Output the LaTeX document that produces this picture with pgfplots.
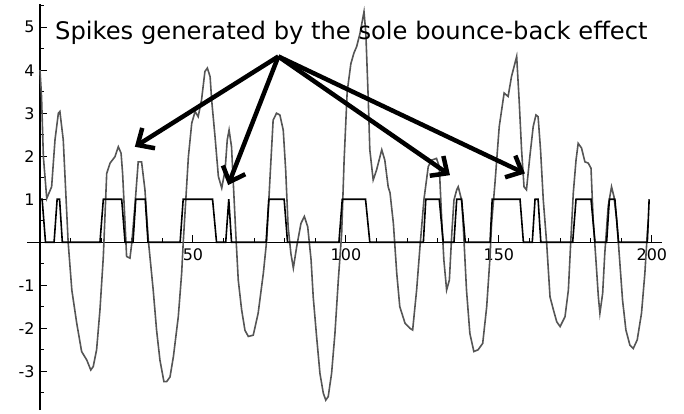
\documentclass[border=0pt]{standalone}
\usepackage{fontspec}
\setmainfont{DejaVu Sans}
\usepackage{pgfplots}
\pgfplotsset{compat=1.18}
\usetikzlibrary{arrows.meta}
\definecolor{curvegrey}{HTML}{555555}

\begin{document}
\begin{tikzpicture}
\useasboundingbox (-27bp,-4bp) rectangle (657bp,410bp);
\begin{axis}[
  at={(0,0)}, anchor=south west,
  scale only axis, width=635bp, height=406bp,
  xmin=-4.25, xmax=203.3, ymin=-3.9, ymax=5.54,
  axis lines=middle,
  axis line style={-, line width=1.2bp, black},
  xtick={50,100,150,200},
  ytick={-3,-2,-1,1,2,3,4,5},
  yticklabels={-3,-2,-1,1,2,3,4,5},
  minor xtick={10,20,...,190},
  minor ytick={-3.5,-2.5,...,5.5},
  tick align=inside,
  major tick length=7bp, minor tick length=4bp,
  tick style={black, line width=1bp},
  ticklabel style={font=\fontsize{16}{19}\selectfont, text=black},
  xticklabel style={yshift=-3bp},
  yticklabel style={xshift=-2bp},
  /pgf/number format/assume math mode=true,
  clip=false,
]
\addplot[curvegrey, line width=1.6bp] coordinates {
(0,4.0) (0.5,3.39) (1.1,1.99) (2.2,1.02) (3.8,1.29) (4.9,2.38) (6.0,3.0) (6.5,3.04) (7.6,2.38) (9.2,0)
(10.4,-1.11) (12.0,-1.88) (13.6,-2.54) (15.3,-2.74) (16.6,-2.97) (17.4,-2.89) (18.5,-2.5) (19.6,-1.57) (20.7,-0.33)
(21.8,1.6) (22.9,1.84) (24.5,1.99) (25.6,2.22) (26.5,2.07) (27.0,1.6) (27.8,0.44) (28.3,-0.33) (29.4,-0.37) (30.0,-0.02)
(31.0,0.83) (32.1,1.87) (33.2,1.87) (34.3,1.22) (35.4,0.05) (37.0,-1.11) (38.1,-2.04) (39.2,-2.74) (40.5,-3.24) (41.4,-3.24)
(42.5,-3.13) (43.6,-2.66) (45.2,-1.73) (46.3,-0.72) (46.8,-0.02) (48.5,1.99) (49.6,2.77) (50.7,3.04) (51.7,2.92) (52.8,3.31)
(53.9,3.97) (54.7,4.05) (55.6,3.85) (56.1,3.31) (57.2,2.46) (58.3,1.53) (59.4,1.26) (60.5,1.68) (61.2,2.38) (61.8,2.61)
(62.6,2.22) (63.4,1.06) (64.1,0.05) (64.8,-0.88) (65.9,-1.57) (67.0,-2.05) (68.1,-2.19) (69.7,-2.16) (71.3,-1.65) (73.0,-0.72)
(74.1,0.05) (75.2,1.53) (76.2,2.84) (77.3,3.0) (78.4,2.96) (79.5,2.61) (80.3,1.68) (81.1,0.36) (82.0,-0.26) (82.8,-0.6)
(83.9,-0.1) (85.3,0.44) (86.4,0.6) (87.5,0.36) (88.6,-0.41) (89.3,-1.27) (90.4,-2.19) (91.5,-3.05) (92.6,-3.51) (93.4,-3.67)
(94.2,-3.59) (95.3,-3.05) (96.4,-2.12) (97.5,-0.88) (98.6,0.21) (99.4,1.91) (100.4,3.5) (101.6,4.15) (102.6,4.4) (103.5,4.55)
(104.6,4.86) (105.9,5.36) (106.5,4.86) (107.3,3.31) (107.8,2.15) (108.9,1.45) (110.0,1.68) (111.7,2.15) (112.7,1.91) (113.8,1.29)
(114.4,1.15) (115.5,0.44) (116.6,-0.72) (117.6,-1.5) (119.3,-1.88) (120.9,-2.0) (121.8,-2.04) (123.1,-1.11) (124.2,-0.1) (125.5,1.0)
(126.9,1.76) (128.0,1.91) (129.6,1.95) (130.5,1.76) (131.3,0.52) (132.0,-0.41) (132.9,-1.11) (133.8,-0.88) (134.6,0.21) (135.3,0.98)
(136.2,1.22) (136.7,1.29) (137.8,0.98) (138.3,0.44) (139.4,-1.11) (140.5,-2.12) (141.8,-2.54) (143.2,-2.5) (144.7,-2.35) (146.0,-1.5)
(147.1,-0.33) (147.6,0.44) (148.7,1.37) (150.1,2.69) (151.7,3.47) (153.0,3.39) (154.1,3.85) (155.8,4.32) (156.6,3.31) (157.4,2.15)
(158.2,1.29) (159.0,1.22) (160.1,1.99) (161.2,2.69) (162.1,2.96) (162.8,2.92) (163.6,2.15) (164.5,0.98) (165.6,-0.02) (166.7,-1.27)
(167.8,-1.57) (168.9,-1.85) (170.0,-1.96) (171.6,-1.73) (172.7,-1.11) (173.5,0.05) (174.3,1.14) (175.2,1.91) (175.9,2.3) (177.0,2.19)
(178.1,1.87) (179.2,1.84) (180.1,1.72) (180.8,0.52) (181.7,-0.41) (182.5,-1.27) (183.0,-1.65) (183.9,-1.19) (184.6,-0.26) (185.7,0.83)
(186.8,1.29) (187.6,1.06) (188.5,0.52) (189.3,-0.26) (190.4,-1.34) (191.5,-2.04) (192.8,-2.39) (193.9,-2.47) (195.2,-2.27) (196.6,-1.65)
(197.7,-0.72) (198.5,0.21) (198.8,0.48)
};
\addplot[black, line width=1.6bp] coordinates {
(0,1) (0.7,1) (1.8,0) (4.6,0) (5.6,1) (6.4,1) (7.3,0) (19.6,0) (20.7,1) (26.7,1) (27.8,0)
(30.4,0) (31.3,1) (34.4,1) (35.3,0) (45.8,0) (46.8,1) (56.4,1) (57.7,0) (60.7,0) (61.7,1) (62.6,0)
(73.9,0) (74.8,1) (79.8,1) (80.9,0) (97.7,0) (98.8,1) (106.4,1) (107.8,0) (125.3,0) (126.1,1) (130.5,1) (131.8,0)
(135.3,0) (136.2,1) (137.8,1) (139,0) (147.1,0) (147.8,1) (156.9,1) (158,0) (160.9,0) (161.8,1) (162.8,1) (163.7,0)
(174.1,0) (175.2,1) (180.1,1) (181.4,0) (185.2,0) (186.1,1) (187.9,1) (189.1,0) (198.5,0) (199.1,1)
};
\node[font=\fontsize{24.3}{28}\selectfont, anchor=base west, text=black, inner sep=0pt] at (axis cs:4.9,4.72) {Spikes generated by the sole bounce-back effect};
\draw[line width=4.5bp, black, -{Straight Barb[length=13bp, width=24bp]}] (axis cs:77.9,4.32) -- (axis cs:31.0,2.22);
\draw[line width=4.5bp, black, -{Straight Barb[length=13bp, width=24bp]}] (axis cs:77.9,4.32) -- (axis cs:61.5,1.33);
\draw[line width=4.5bp, black, -{Straight Barb[length=13bp, width=24bp]}] (axis cs:77.9,4.32) -- (axis cs:134.0,1.56);
\draw[line width=4.5bp, black, -{Straight Barb[length=13bp, width=24bp]}] (axis cs:77.9,4.32) -- (axis cs:158.5,1.6);
\end{axis}
\end{tikzpicture}
\end{document}
